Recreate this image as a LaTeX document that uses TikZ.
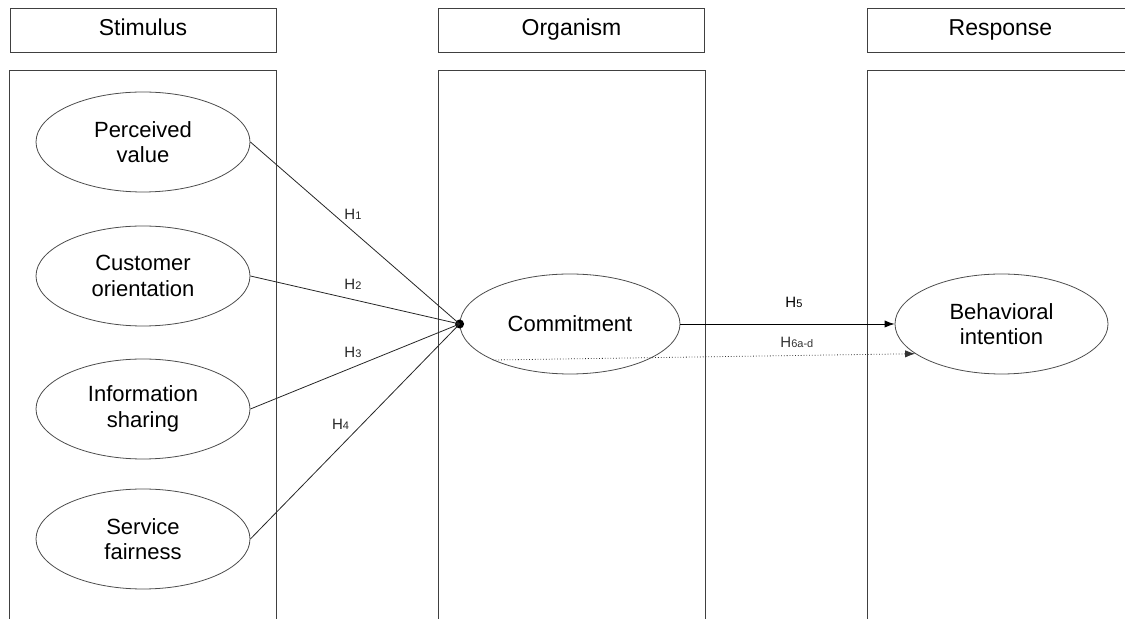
\documentclass[tikz,border=0pt]{standalone}
\usepackage{fontspec}
\setmainfont{Liberation Sans}
\usetikzlibrary{arrows.meta,positioning,shapes}
\tikzset{
    %Define standard arrow tip
    >={Latex[length=5pt,width=3.6pt]},
    line width=0.7pt,
    kopf/.style={
      rectangle,
      draw=black!75,
      minimum width=133pt,
      minimum height=22pt,
      text height=8pt,
      text depth=2pt,
      font=\fontsize{11.5}{13}\selectfont},
    var/.style={
      ellipse,
      draw=black!70,
      minimum width=107pt,
      minimum height=50pt,
      align=center,
      font=\fontsize{11}{12.8}\selectfont},
    hyp/.style={
      font=\fontsize{7.5}{9}\selectfont,
      inner sep=1pt},
    knoten/.style={
      circle,
      fill=black,
      inner sep=0pt,
      minimum size=4.5pt},
}
\newcommand{\hname}[1]{H{\fontsize{5.5}{6}\selectfont #1}}

\begin{document}
\begin{tikzpicture}[x=1pt, y=1pt]
    \useasboundingbox (0,0) rectangle (562.5,-309.5);
    % column heads
    \node (stim) [kopf] at (71.5,-15)
          {Stimulus};
    \node (org) [kopf] [right of=stim, node distance=214.25pt]
          {Organism};
    \node (resp) [kopf] [right of=org, node distance=214.5pt]
          {Response};
    \foreach \k in {stim,org,resp}
      \draw[black!75] ([yshift=-9pt]\k.south west) rectangle ([yshift=-300pt]\k.south east);
    % constructs
    \node (pv) [var] at (71.5,-71)
          {Perceived\\value};
    \node (co) [var] [below of=pv, node distance=67pt]
          {Customer\\orientation};
    \node (is) [var] [below of=co, node distance=66.5pt]
          {Information\\sharing};
    \node (sf) [var] [below of=is, node distance=65pt]
          {Service\\fairness};
    \node (cm) [var, minimum width=110pt] at (285,-162)
          {Commitment};
    \node (bi) [var, minimum width=106.5pt] at (500.75,-162)
          {Behavioral\\intention};
    \node (hub) [knoten] at (cm.west) {};
    % paths
    \draw[black!85] (pv.east) -- node[hyp, pos=.49, above=4.5pt] {\hname{1}} (hub.center);
    \draw[black!85] (co.east) -- node[hyp, pos=.49, above=4pt] {\hname{2}} (hub.center);
    \draw[black!85] (is.east) -- node[hyp, pos=.49, above=3.5pt] {\hname{3}} (hub.center);
    \draw[black!85] (sf.east) -- node[hyp, pos=.46, above=4pt, xshift=-3pt] {\hname{4}} (hub.center);
    \draw[->] (cm.east) -- node[hyp, pos=.53, above=7pt] {\hname{5}} (bi.west);
    \draw[->, densely dotted, black!80] (cm.-155) -- node[hyp, pos=.72, above=2.5pt] {\hname{6a-d}} (bi.-161);
\end{tikzpicture}
\end{document}
